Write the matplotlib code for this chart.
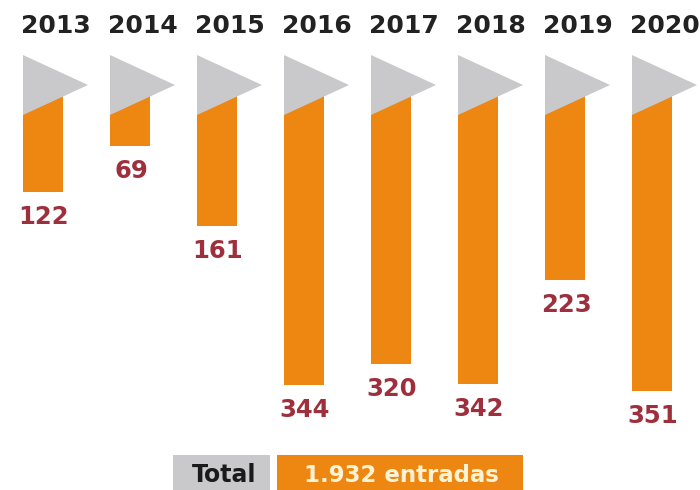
import matplotlib
matplotlib.use("Agg")
import matplotlib.pyplot as plt
from matplotlib.patches import Polygon, Rectangle

years = ["2013", "2014", "2015", "2016", "2017", "2018", "2019", "2020"]
values = [122, 69, 161, 344, 320, 342, 223, 351]
total_label = "Total"
total_value = "1.932 entradas"

ORANGE = "#EE8612"
GRAY = "#C9C9CB"
RED = "#9E2F3C"
DARK = "#222222"

W, H = 700, 490
fig = plt.figure(figsize=(W / 100, H / 100), dpi=100)
ax = fig.add_axes([0, 0, 1, 1])

# pixel mapping: x_px = 43 + 87*i ; y_px = 86 + 0.87*v
xs, x0 = 87.0, 43.0
ys, y0 = 0.87, 86.0
ax.set_xlim(-x0 / xs, (W - x0) / xs)
ax.set_ylim((H - y0) / ys, -y0 / ys)
ax.axis("off")

bw = 40 / xs
idx = list(range(len(years)))
ax.bar(idx, values, width=bw, bottom=0, color=ORANGE, zorder=2, linewidth=0)

for i, (yr, v) in enumerate(zip(years, values)):
    left = i - bw / 2
    tri = Polygon([(left, -31 / ys), (left + 65 / xs, -1 / ys), (left, 29 / ys)],
                  closed=True, facecolor=GRAY, edgecolor="none", zorder=3)
    ax.add_patch(tri)
    ax.text(left + 33 / xs, -60 / ys, yr, ha="center", va="center",
            fontsize=18, fontweight="bold", color=DARK, family="DejaVu Sans")
    ax.text(i + 1 / xs, v + 13 / ys, str(v), ha="center", va="top",
            fontsize=17.5, fontweight="bold", color=RED, family="DejaVu Sans")

def fx(p):
    return p / W

def fy(p):
    return 1 - p / H

fig.patches.append(Rectangle((fx(173), fy(490)), fx(270) - fx(173), fy(455) - fy(490),
                             transform=fig.transFigure, facecolor=GRAY, edgecolor="none"))
fig.patches.append(Rectangle((fx(277), fy(490)), fx(523) - fx(277), fy(455) - fy(490),
                             transform=fig.transFigure, facecolor=ORANGE, edgecolor="none"))
fig.text(fx(224), fy(475), total_label, ha="center", va="center", fontsize=17,
         fontweight="bold", color="#1a1a1a", family="DejaVu Sans")
fig.text(fx(401), fy(475), total_value, ha="center", va="center", fontsize=16.5,
         fontweight="bold", color="#FFF3D6", family="DejaVu Sans")

fig.savefig("out.png", dpi=100, facecolor="white")
